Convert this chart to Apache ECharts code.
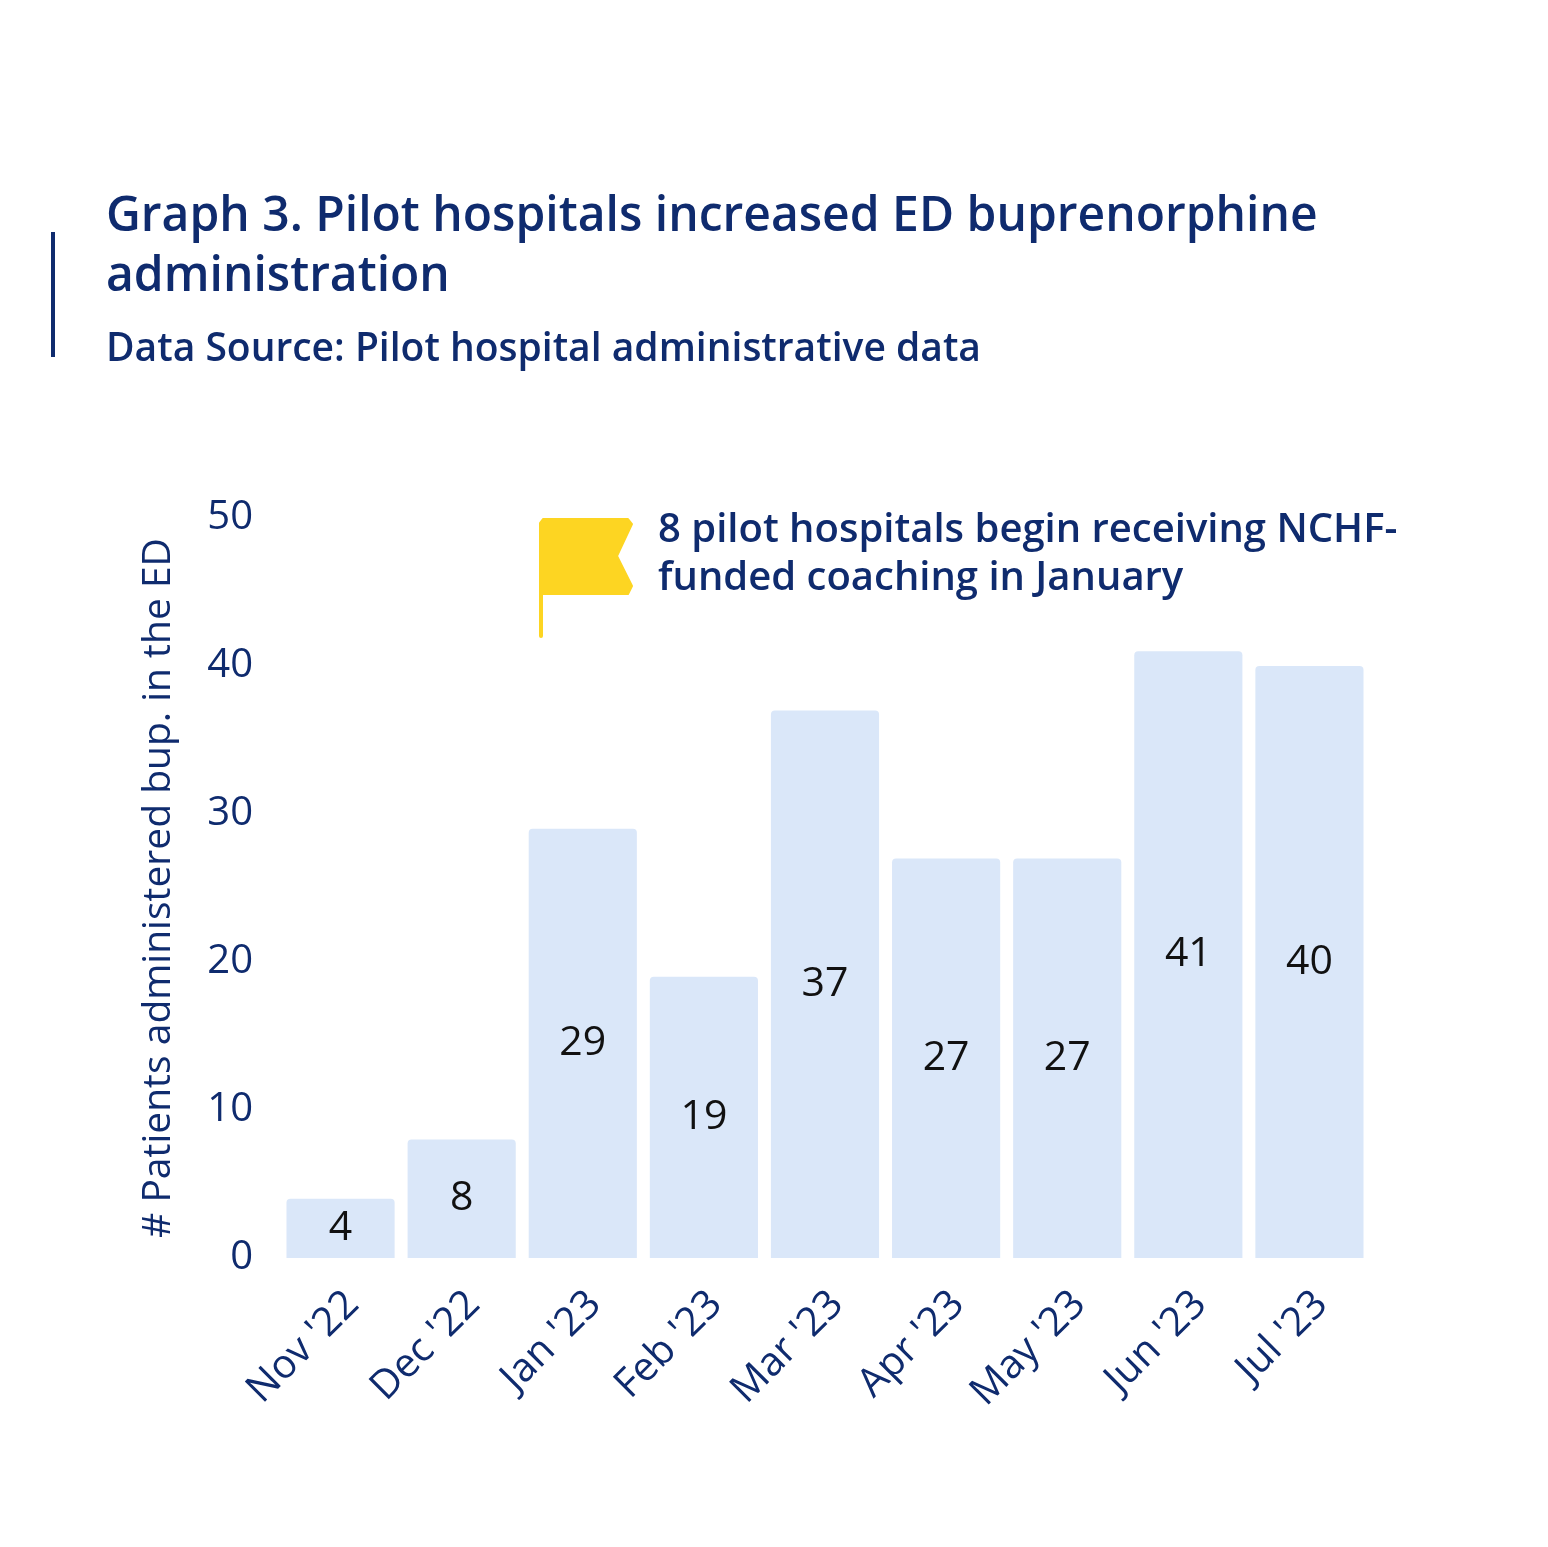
<!DOCTYPE html>
<html><head><meta charset="utf-8">
<script src="https://cdn.jsdelivr.net/npm/echarts@6/dist/echarts.min.js"></script>
<style>html,body{margin:0;padding:0;background:#fff}#c{width:1548px;height:1547px}</style>
</head><body><div id="c"></div>
<script>
const categories = ["Nov '22","Dec '22","Jan '23","Feb '23","Mar '23","Apr '23","May '23","Jun '23","Jul '23"];
const values = [4, 8, 29, 19, 37, 27, 27, 41, 40];
const yTicks = {min: 0, max: 50, interval: 10};
const titleText = "Graph 3. Pilot hospitals increased ED buprenorphine\nadministration";
const subtitleText = "Data Source: Pilot hospital administrative data";
const yAxisName = "# Patients administered bup. in the ED";
const noteText = "8 pilot hospitals begin receiving NCHF-\nfunded coaching in January";

const navy = '#0f2b6e';
const font = 'Open Sans';
const yellow = '#fdd522';
const chart = echarts.init(document.getElementById('c'));
chart.setOption({
  animation: false,
  backgroundColor: '#fff',
  textStyle: {fontFamily: font},
  grid: {left: 280, right: 178, top: 518, bottom: 289, containLabel: false},
  xAxis: {
    type: 'category', data: categories,
    axisLine: {show: false}, axisTick: {show: false},
    axisLabel: {rotate: 45, margin: 28, color: navy, fontSize: 40, lineHeight: 34, verticalAlign: 'top', fontFamily: font}
  },
  yAxis: {
    type: 'value', min: yTicks.min, max: yTicks.max, interval: yTicks.interval,
    name: yAxisName, nameLocation: 'middle', nameGap: 102, nameRotate: 90,
    nameTextStyle: {color: navy, fontSize: 39, fontFamily: font},
    splitLine: {show: false}, axisLine: {show: false}, axisTick: {show: false},
    axisLabel: {margin: 27, color: navy, fontSize: 40, fontFamily: font}
  },
  series: [{
    type: 'bar', data: values, barCategoryGap: '10.7%',
    itemStyle: {color: '#dae7f9', borderRadius: [4, 4, 0, 0]},
    label: {show: true, position: 'inside', color: '#111', fontSize: 41, fontFamily: font}
  }],
  graphic: [
    {type: 'text', x: 106, y: 187, style: {text: titleText, fill: navy, fontFamily: font, fontWeight: 600, fontSize: 48, lineHeight: 60}},
    {type: 'text', x: 106, y: 330, style: {text: subtitleText, fill: navy, fontFamily: font, fontWeight: 600, fontSize: 39}},
    {type: 'rect', shape: {x: 51, y: 232, width: 4, height: 125}, style: {fill: navy}},
    {type: 'rect', shape: {x: 539, y: 530, width: 4, height: 108, r: 2}, style: {fill: yellow}},
    {type: 'polygon', shape: {points: [[540,523],[543,519],[628,519],[632,524],[617,556],[632,586],[628,594],[540,594]]}, style: {fill: yellow, lineJoin: 'round', stroke: yellow, lineWidth: 2}},
    {type: 'text', x: 658, y: 507, style: {text: noteText, fill: navy, fontFamily: font, fontWeight: 600, fontSize: 40, lineHeight: 48}}
  ]
});
</script></body></html>
